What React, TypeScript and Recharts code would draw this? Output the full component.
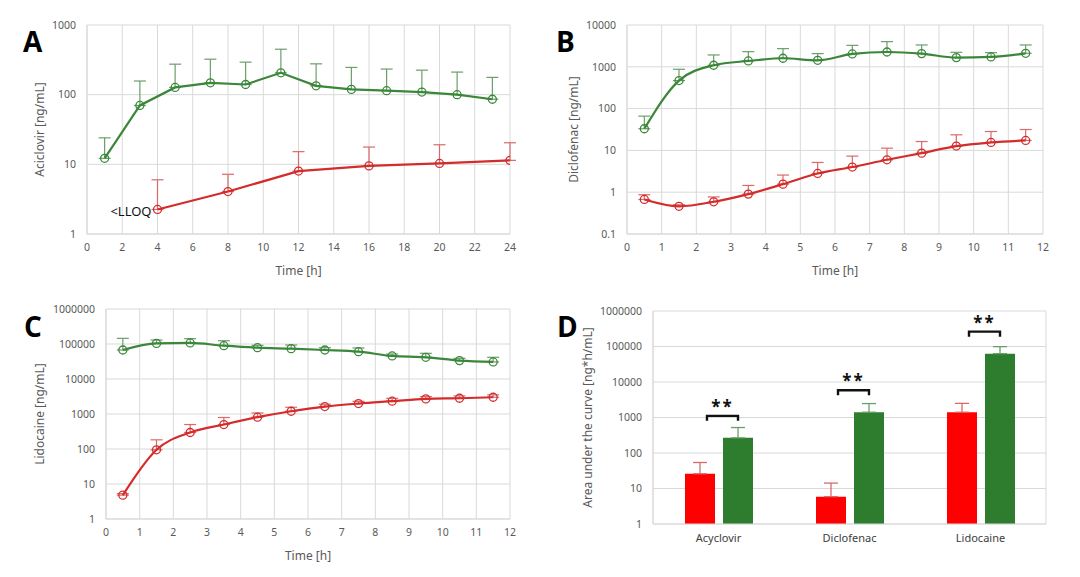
import {
  LineChart,
  Line,
  XAxis,
  YAxis,
  CartesianGrid,
  ErrorBar,
  BarChart,
  Bar,
  LabelList,
} from "recharts";

// Panel A – aciclovir
const aGreenTime = [1, 3, 5, 7, 9, 11, 13, 15, 17, 19, 21, 23];
const aGreenMean = [12.2, 70, 127, 148, 140, 206, 134, 119, 114, 109, 100, 86];
const aGreenUpper = [24, 157, 274, 323, 293, 449, 277, 246, 233, 225, 211, 177];
const aRedTime = [4, 8, 12, 16, 20, 24];
const aRedMean = [2.25, 4.07, 8.0, 9.5, 10.3, 11.4];
const aRedUpper = [6.0, 7.2, 15.2, 17.7, 19.1, 20.4];

// Panel B – diclofenac
const bTime = [0.5, 1.5, 2.5, 3.5, 4.5, 5.5, 6.5, 7.5, 8.5, 9.5, 10.5, 11.5];
const bGreenMean = [33, 468, 1090, 1380, 1600, 1430, 2030, 2260, 2070, 1660, 1720, 2100];
const bGreenUpper = [66, 873, 1920, 2300, 2720, 2070, 3260, 4000, 3330, 2220, 2180, 3330];
const bRedMean = [0.67, 0.46, 0.59, 0.9, 1.56, 2.81, 4.0, 5.96, 8.6, 12.7, 15.5, 17.3];
const bRedUpper = [0.87, 0.5, 0.77, 1.45, 2.57, 5.15, 7.3, 11.3, 16.3, 23.6, 28.3, 31.6];

// Panel C – lidocaine
const cTime = [0.5, 1.5, 2.5, 3.5, 4.5, 5.5, 6.5, 7.5, 8.5, 9.5, 10.5, 11.5];
const cGreenMean = [67400, 104000, 107000, 89600, 78500, 73600, 67400, 60400, 45500, 41700, 33500, 30700];
const cGreenUpper = [145000, 130000, 142000, 124000, 91600, 93400, 78500, 76900, 51900, 54200, 39000, 41700];
const cRedMean = [4.8, 95, 296, 500, 811, 1200, 1630, 1990, 2320, 2700, 2820, 3010];
const cRedUpper = [5.3, 183, 500, 794, 1070, 1560, 1900, 2300, 2800, 3150, 3290, 3520];

// Panel D – AUC
const dDrugs = ["Acyclovir", "Diclofenac", "Lidocaine"];
const dRed = [26, 5.9, 1410];
const dRedUpper = [54, 14.2, 2500];
const dGreen = [267, 1410, 62900];
const dGreenUpper = [522, 2470, 99000];

const GREEN_LINE = "#3a873a";
const RED_LINE = "#d42b2b";
const GREEN_ERR = "#6b9e6b";
const RED_ERR = "#d86a6a";
const GREEN_BAR = "#2e7d2e";
const RED_BAR = "#ff0000";
const GRID = "#d9d9d9";
const TICK = "#595959";

const toRows = (t: number[], mean: number[], upper: number[]) =>
  t.map((x, i) => ({ t: x, v: mean[i], err: [0, Math.max(upper[i] - mean[i], 0)] }));

const tickStyle = { fontSize: 10.5, fill: TICK };

type Series = { rows: any[]; color: string; errColor: string; name: string; lloq?: boolean };

function LloqLabel(props: any) {
  const { x, y, index } = props;
  if (index !== 0) return null;
  return (
    <text x={x - 6} y={y + 7} textAnchor="end" fontSize={13} fill="#111">
      {"<LLOQ"}
    </text>
  );
}

function LinePanel(props: {
  left: number;
  top: number;
  height: number;
  margin: { top: number; right: number; bottom: number; left: number };
  xHeight: number;
  yWidth: number;
  yTicks: number[];
  xTicks: number[];
  yLabel: string;
  yLabelX: number;
  xLabelOffset: number;
  curve: "linear" | "monotone";
  series: Series[];
}) {
  const p = props;
  return (
    <div style={{ position: "absolute", left: p.left, top: p.top }}>
      <LineChart width={540} height={p.height} margin={p.margin}>
        <CartesianGrid stroke={GRID} strokeWidth={1} />
        <XAxis
          dataKey="t"
          type="number"
          domain={[p.xTicks[0], p.xTicks[p.xTicks.length - 1]]}
          ticks={p.xTicks}
          allowDataOverflow
          height={p.xHeight}
          tickLine={false}
          tickMargin={4}
          axisLine={{ stroke: GRID }}
          tick={tickStyle}
          label={{ value: "Time [h]", position: "insideBottom", offset: p.xLabelOffset, fontSize: 12, fill: TICK }}
        />
        <YAxis
          type="number"
          scale="log"
          domain={[p.yTicks[0], p.yTicks[p.yTicks.length - 1]]}
          ticks={p.yTicks}
          allowDataOverflow
          width={p.yWidth}
          tickLine={false}
          tickMargin={5}
          axisLine={{ stroke: GRID }}
          tick={tickStyle}
          tickFormatter={(v: number) => String(v)}
          label={{
            value: p.yLabel,
            angle: -90,
            position: "insideLeft",
            offset: p.yLabelX,
            fontSize: 12,
            fill: TICK,
            style: { textAnchor: "middle" },
          }}
        />
        {p.series.map((s) => (
          <Line
            key={s.name}
            name={s.name}
            data={s.rows}
            dataKey="v"
            type={p.curve}
            stroke={s.color}
            strokeWidth={2.2}
            dot={{ r: 4, fill: "none", stroke: s.color, strokeWidth: 1.3 }}
            activeDot={false}
            isAnimationActive={false}
          >
            <ErrorBar dataKey="err" direction="y" width={6} stroke={s.errColor} strokeWidth={1.2} />
            {s.lloq ? <LabelList dataKey="v" content={LloqLabel} /> : null}
          </Line>
        ))}
      </LineChart>
    </div>
  );
}

function Bracket(props: any) {
  const { x, y, width } = props;
  const x1 = x - 16;
  const x2 = x + width / 2;
  const yb = y - 22;
  return (
    <g>
      <path d={`M${x1},${yb + 5} L${x1},${yb} L${x2},${yb} L${x2},${yb + 5}`} fill="none" stroke="#111" strokeWidth={2.4} />
      <text x={(x1 + x2) / 2} y={yb - 3} textAnchor="middle" fontSize={17} fontWeight="bold" fill="#111" letterSpacing={2}>
        **
      </text>
    </g>
  );
}

export default function App() {
  const aData: Series[] = [
    { name: "green", rows: toRows(aGreenTime, aGreenMean, aGreenUpper), color: GREEN_LINE, errColor: GREEN_ERR },
    { name: "red", rows: toRows(aRedTime, aRedMean, aRedUpper), color: RED_LINE, errColor: RED_ERR, lloq: true },
  ];
  const bData: Series[] = [
    { name: "green", rows: toRows(bTime, bGreenMean, bGreenUpper), color: GREEN_LINE, errColor: GREEN_ERR },
    { name: "red", rows: toRows(bTime, bRedMean, bRedUpper), color: RED_LINE, errColor: RED_ERR },
  ];
  const cData: Series[] = [
    { name: "green", rows: toRows(cTime, cGreenMean, cGreenUpper), color: GREEN_LINE, errColor: GREEN_ERR },
    { name: "red", rows: toRows(cTime, cRedMean, cRedUpper), color: RED_LINE, errColor: RED_ERR },
  ];
  const dData = dDrugs.map((d, i) => ({
    drug: d,
    red: dRed[i],
    redErr: [0, dRedUpper[i] - dRed[i]],
    green: dGreen[i],
    greenErr: [0, dGreenUpper[i] - dGreen[i]],
  }));

  const xTicksA = Array.from({ length: 13 }, (_, i) => i * 2);
  const xTicks12 = Array.from({ length: 13 }, (_, i) => i);

  return (
    <div
      style={{
        position: "absolute",
        left: 0,
        top: 0,
        width: 1080,
        height: 577,
        background: "#fff",
        fontFamily: "'Noto Sans', sans-serif",
        overflow: "hidden",
      }}
    >
      <LinePanel
        left={0}
        top={0}
        height={290}
        margin={{ top: 25, right: 30, bottom: 0, left: 0 }}
        xHeight={56}
        yWidth={87}
        yTicks={[1, 10, 100, 1000]}
        xTicks={xTicksA}
        yLabel="Aciclovir [ng/mL]"
        yLabelX={40}
        xLabelOffset={15}
        curve="linear"
        series={aData}
      />
      <LinePanel
        left={540}
        top={0}
        height={290}
        margin={{ top: 25, right: 37, bottom: 0, left: 0 }}
        xHeight={56}
        yWidth={87}
        yTicks={[0.1, 1, 10, 100, 1000, 10000]}
        xTicks={xTicks12}
        yLabel="Diclofenac [ng/mL]"
        yLabelX={34}
        xLabelOffset={15}
        curve="monotone"
        series={bData}
      />
      <LinePanel
        left={0}
        top={290}
        height={287}
        margin={{ top: 19, right: 30, bottom: 0, left: 0 }}
        xHeight={58}
        yWidth={106}
        yTicks={[1, 10, 100, 1000, 10000, 100000, 1000000]}
        xTicks={xTicks12}
        yLabel="Lidocaine [ng/mL]"
        yLabelX={40}
        xLabelOffset={17}
        curve="monotone"
        series={cData}
      />
      <div style={{ position: "absolute", left: 540, top: 290 }}>
        <BarChart
          width={540}
          height={287}
          data={dData}
          margin={{ top: 21, right: 34, bottom: 0, left: 0 }}
          barSize={30}
          barGap={8}
        >
          <CartesianGrid
            stroke={GRID}
            verticalCoordinatesGenerator={({ offset }: any) => [offset.left, offset.left + offset.width]}
          />
          <XAxis
            dataKey="drug"
            height={53}
            tickLine={false}
            tickMargin={4}
            axisLine={{ stroke: GRID }}
            tick={{ fontSize: 11, fill: "#404040" }}
          />
          <YAxis
            type="number"
            scale="log"
            domain={[1, 1000000]}
            ticks={[1, 10, 100, 1000, 10000, 100000, 1000000]}
            allowDataOverflow
            width={113}
            tickLine={false}
            tickMargin={5}
            axisLine={{ stroke: GRID }}
            tick={tickStyle}
            tickFormatter={(v: number) => String(v)}
            label={{
              value: "Area under the curve [ng*h/mL]",
              angle: -90,
              position: "insideLeft",
              offset: 48,
              fontSize: 12,
              fill: TICK,
              style: { textAnchor: "middle" },
            }}
          />
          <Bar dataKey="red" fill={RED_BAR} isAnimationActive={false}>
            <ErrorBar dataKey="redErr" direction="y" width={7} stroke={RED_ERR} strokeWidth={1.3} />
          </Bar>
          <Bar dataKey="green" fill={GREEN_BAR} isAnimationActive={false}>
            <ErrorBar dataKey="greenErr" direction="y" width={7} stroke={GREEN_ERR} strokeWidth={1.3} />
            <LabelList dataKey="green" content={Bracket} />
          </Bar>
        </BarChart>
      </div>
      <svg
        width={1080}
        height={577}
        style={{ position: "absolute", left: 0, top: 0, pointerEvents: "none" }}
      >
        <g fontFamily="'Open Sans', sans-serif" fontWeight="bold" fontSize={28} fill="#000">
          <text x={23} y={52}>A</text>
          <text x={556} y={52}>B</text>
          <text x={24} y={337}>C</text>
          <text x={557} y={337}>D</text>
        </g>
      </svg>
    </div>
  );
}
